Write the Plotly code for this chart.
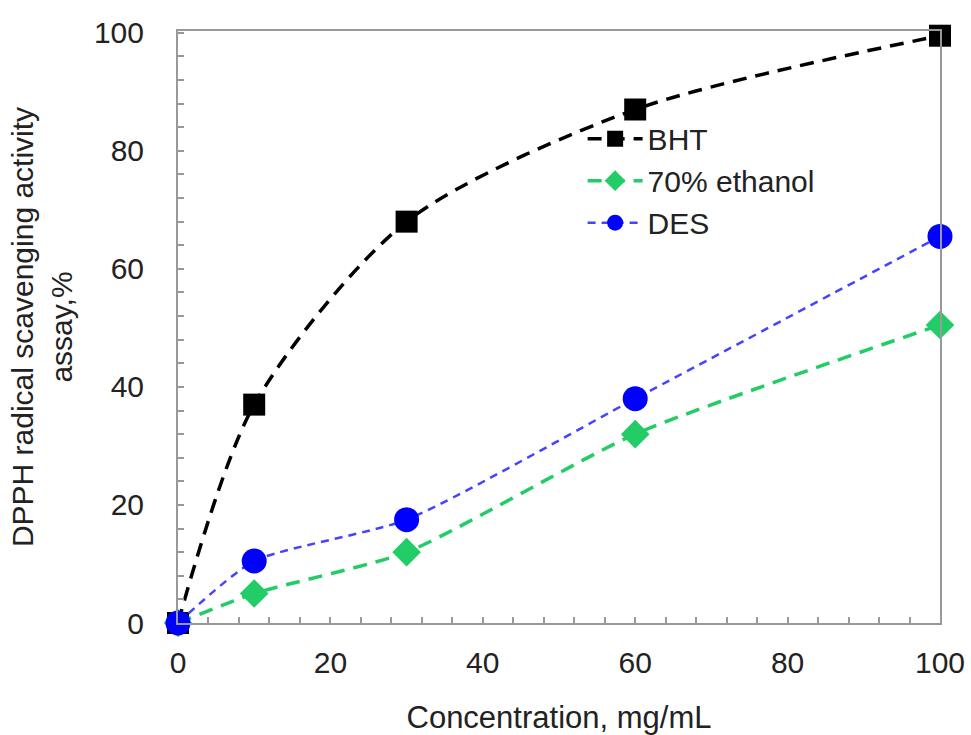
import plotly.graph_objects as go

conc = [0, 10, 30, 60, 100]
bht = [0, 37, 68, 87, 99.5]
ethanol = [0, 5, 12, 32, 50.5]
des = [0, 10.5, 17.5, 38, 65.5]

fig = go.Figure()
fig.add_trace(go.Scatter(x=conc, y=bht, name="BHT", mode="lines+markers",
    line=dict(color="black", width=3.5, dash="14px,9px", shape="spline", smoothing=0.8),
    marker=dict(symbol="square", size=22, color="black"), cliponaxis=False))
fig.add_trace(go.Scatter(x=conc, y=ethanol, name="70% ethanol", mode="lines+markers",
    line=dict(color="#22cc66", width=3.5, dash="14px,9px", shape="spline", smoothing=0.6),
    marker=dict(symbol="diamond", size=22, color="#22cc66"), cliponaxis=False))
fig.add_trace(go.Scatter(x=conc, y=des, name="DES", mode="lines+markers",
    line=dict(color="#4444ff", width=2.5, dash="8px,6px", shape="spline", smoothing=0.6),
    marker=dict(symbol="circle", size=25, color="#0000ff"), cliponaxis=False))

axis_common = dict(showgrid=False, zeroline=False, showline=True, linecolor="#999",
                   linewidth=2, mirror=True, ticks="inside", ticklen=6, tickcolor="#999",
                   tickwidth=1.5, automargin=False, ticklabeloverflow="allow",
                   tickfont=dict(family="Liberation Sans, Arial", size=30, color="#222"),
                   minor=dict(ticks="inside", ticklen=6, dtick=4, tickcolor="#999", tickwidth=1.5))

fig.update_layout(
    width=971, height=735,
    margin=dict(l=178, r=31, t=31, b=112),
    plot_bgcolor="white", paper_bgcolor="white",
    font=dict(family="Liberation Sans, Arial", color="#222"),
    xaxis=dict(range=[0, 100], tickvals=[0, 20, 40, 60, 80, 100], ticklabelstandoff=12,
               title=dict(text="Concentration, mg/mL", font=dict(size=31), standoff=40), **axis_common),
    yaxis=dict(range=[0, 100.3], tickvals=[0, 20, 40, 60, 80, 100], ticklabelstandoff=26,
               title=dict(text="DPPH radical scavenging activity<br>assay,%", font=dict(size=30), standoff=12),
               **axis_common),
    legend=dict(x=0.531, y=0.862, xanchor="left", yanchor="top", bgcolor="rgba(0,0,0,0)",
                font=dict(size=30), tracegroupgap=0, itemwidth=55),
    showlegend=True,
)

fig.write_html("out.html", config={"displayModeBar": False},
               post_script="document.body.style.margin='0';document.body.style.overflow='hidden';")
